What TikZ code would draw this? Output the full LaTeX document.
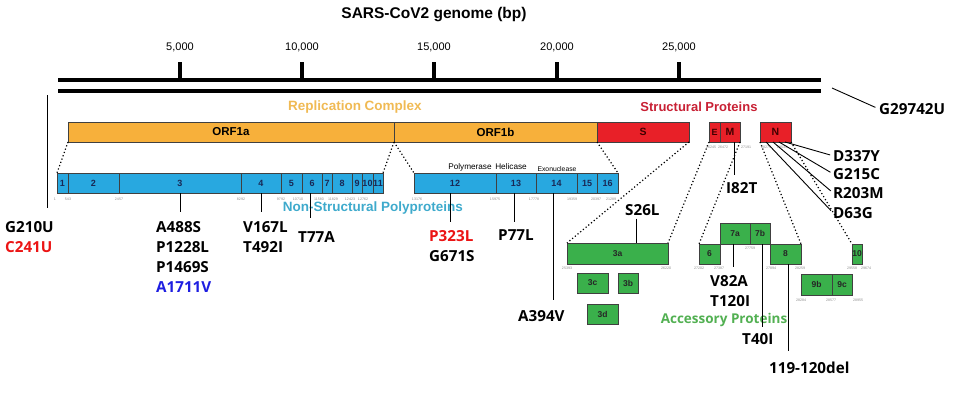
\documentclass[tikz,border=0pt]{standalone}
\usepackage{fontspec}
\setsansfont{Liberation Sans}
\newfontfamily\mutfont{Open Sans}
\usepackage{tikz}

\definecolor{orfcol}{RGB}{247,176,59}
\definecolor{spcol}{RGB}{232,32,40}
\definecolor{nspcol}{RGB}{40,168,224}
\definecolor{acccol}{RGB}{58,176,75}
\definecolor{navytxt}{RGB}{25,40,85}
\definecolor{repcol}{RGB}{240,186,84}
\definecolor{strcol}{RGB}{200,32,52}
\definecolor{nsptxt}{RGB}{62,170,204}
\definecolor{acctxt}{RGB}{82,176,82}
\definecolor{mutred}{RGB}{235,20,20}
\definecolor{mutblue}{RGB}{30,30,225}

\begin{document}
\begin{tikzpicture}[x=1pt, y=-1pt,
  box/.style={draw=black!75, line width=0.8pt, inner sep=0pt, outer sep=0pt, minimum height=20pt},
  orf/.style={box, fill=orfcol, font=\sffamily\bfseries\fontsize{11.5}{12}\selectfont},
  sp/.style={box, fill=spcol, text=black!75!red, font=\sffamily\bfseries\fontsize{10.5}{11}\selectfont},
  nsp/.style={box, fill=nspcol, text=navytxt, font=\sffamily\bfseries\fontsize{9}{10}\selectfont},
  acc/.style={box, fill=acccol, text=black!85, font=\sffamily\bfseries\fontsize{8.5}{9}\selectfont},
  mut/.style={anchor=north west, inner sep=0pt, align=left, font=\mutfont\bfseries\fontsize{15.2}{20}\selectfont},
  region/.style={inner sep=0pt, font=\sffamily\bfseries\fontsize{13.5}{14}\selectfont},
  enz/.style={inner sep=0pt, font=\sffamily\fontsize{8.2}{9}\selectfont},
  posnum/.style={inner sep=0pt, text=black!45, font=\sffamily\fontsize{3.6}{4}\selectfont},
  axis/.style={line width=4pt},
  zoomline/.style={dash pattern=on 1.2pt off 2.3pt, line width=1.2pt},
  mline/.style={line width=0.9pt, shorten >=8pt}]
\useasboundingbox (0,0) rectangle (959,394);

% genome scale
\node[inner sep=0pt, font=\sffamily\bfseries\fontsize{15.5}{16}\selectfont] (title) at (434,15) {SARS-CoV2 genome (bp)};
\foreach \x/\k in {180/5,302/10,434/15,557/20,679/25} {
  \node[inner sep=0pt, font=\sffamily\fontsize{11}{12}\selectfont] (tick\k) at (\x,47) {\k,000};
  \draw[axis] (\x,62) -- (\x,80);
}
\coordinate (ax0) at (58,80);
\coordinate (ax1) at (821,80);
\coordinate (bx0) at (58,91);
\coordinate (bx1) at (821,91);
\draw[axis] (ax0) -- (ax1);
\draw[axis] (bx0) -- (bx1);

% region titles
\node[region, text=repcol] (repl) at (355,107) {Replication Complex};
\node[region, text=strcol, font=\sffamily\bfseries\fontsize{13}{14}\selectfont] (struct) at (699,107) {Structural Proteins};
\node[region, text=nsptxt] (nonstr) at (373,208) {Non-Structural Polyproteins};
\node[region, text=acctxt, font=\mutfont\bfseries\fontsize{13.5}{14}\selectfont] (access) at (724,320) {Accessory Proteins};

% genome ORFs
\node[orf, minimum width=326pt] (orf1a) at (231,132) {ORF1a};
\node[orf, minimum width=203pt] (orf1b) at (495.5,132) {ORF1b};
\node[sp, minimum width=92pt] (spike) at (643,132) {S};
\node[sp, minimum width=11pt, font=\sffamily\bfseries\fontsize{9}{10}\selectfont] (envE) at (714.5,132) {E};
\node[sp, minimum width=20pt] (memM) at (730,132) {M};
\node[sp, minimum width=31pt] (nucN) at (775.5,132) {N};

% non-structural proteins
\node[nsp, minimum width=11pt] (nsp1) at (62.5,183) {1};
\node[nsp, minimum width=51pt] (nsp2) at (93.5,183) {2};
\node[nsp, minimum width=122pt] (nsp3) at (180,183) {3};
\node[nsp, minimum width=40pt] (nsp4) at (261,183) {4};
\node[nsp, minimum width=21pt] (nsp5) at (291.5,183) {5};
\node[nsp, minimum width=20pt] (nsp6) at (312,183) {6};
\node[nsp, minimum width=10pt] (nsp7) at (327,183) {7};
\node[nsp, minimum width=20pt] (nsp8) at (342,183) {8};
\node[nsp, minimum width=10pt] (nsp9) at (357,183) {9};
\node[nsp, minimum width=11pt] (nsp10) at (367.5,183) {10};
\node[nsp, minimum width=10pt] (nsp11) at (378,183) {11};
\node[nsp, minimum width=82pt] (nsp12) at (455,183) {12};
\node[nsp, minimum width=40pt] (nsp13) at (516,183) {13};
\node[nsp, minimum width=41pt] (nsp14) at (556.5,183) {14};
\node[nsp, minimum width=20pt] (nsp15) at (587,183) {15};
\node[nsp, minimum width=21pt] (nsp16) at (607.5,183) {16};

\node[enz] (pol) at (470,167) {Polymerase};
\node[enz] (hel) at (511,167) {Helicase};
\node[enz, font=\sffamily\fontsize{6.8}{7}\selectfont] (exo) at (557,169) {Exonuclease};

% accessory proteins
\node[acc, minimum width=101pt, minimum height=21pt] (orf3a) at (617.5,253.5) {3a};
\node[acc, minimum width=31pt] (orf3c) at (592.5,283) {3c};
\node[acc, minimum width=20pt] (orf3b) at (628,283) {3b};
\node[acc, minimum width=31pt] (orf3d) at (602.5,314) {3d};
\node[acc, minimum width=21pt] (orf6) at (709.5,254) {6};
\node[acc, minimum width=30pt, minimum height=21pt] (orf7a) at (735,233.5) {7a};
\node[acc, minimum width=20pt, minimum height=21pt] (orf7b) at (760,233.5) {7b};
\node[acc, minimum width=31pt] (orf8) at (785.5,254) {8};
\node[acc, minimum width=31pt, minimum height=21pt] (orf9b) at (816.5,284.5) {9b};
\node[acc, minimum width=20pt, minimum height=21pt] (orf9c) at (842,284.5) {9c};
\node[acc, minimum width=10pt] (orf10) at (857,254) {10};

% positions
\foreach \x/\n in {55/1,68/543,119/2457,241/8292,281/9792,298/10710,319/11580,333/11829,350/12423,363/12762,
                   417/13176,495/15975,534/17778,572/19359,596/20397,611/21289}
  \node[posnum] (pos\n) at (\x,199) {\n};
\foreach \x/\n in {711/26245,723/26472,746/27191,766/28274,782/29533}
  \node[posnum] (pos\n) at (\x,147) {\n};
\foreach \x/\n in {567/25393,666/26220,699/27202,719/27387,771/27894,800/28259,852/29558,866/29674}
  \node[posnum] (pos\n) at (\x,268) {\n};
\node[posnum] (pos27759) at (750,248) {27759};
\foreach \x/\n in {801/28284,831/28577,858/28955}
  \node[posnum] (pos\n) at (\x,300) {\n};

% zoom lines
\draw[zoomline] (orf1a.south west) -- (nsp1.north west);
\draw[zoomline] (orf1a.south east) -- (nsp11.north east);
\draw[zoomline] (orf1b.south west) -- (nsp12.north west);
\draw[zoomline] (orf1b.south east) -- (nsp16.north east);
\draw[zoomline] (spike.south east) -- (orf3a.north west);
\draw[zoomline] (envE.south west) -- (orf3a.north east);
\draw[zoomline] (memM.south east) -- (orf6.north west);
\draw[zoomline] (nucN.south west) -- (orf8.north east);
\draw[zoomline] (nucN.south east) -- (orf10.north west);

% mutations
\node[mut] (g210) at (5,221) {G210U\\\textcolor{mutred}{C241U}};
\node[mut] (nsp3mut) at (156,221) {A488S\\P1228L\\P1469S\\\textcolor{mutblue}{A1711V}};
\node[mut] (nsp4mut) at (243,221) {V167L\\T492I};
\node[mut] (t77a) at (298,231) {T77A};
\node[mut] (nsp12mut) at (429,230) {\textcolor{mutred}{P323L}\\G671S};
\node[mut] (p77l) at (498,229) {P77L};
\node[mut] (a394v) at (518,310) {A394V};
\node[mut] (s26l) at (625,204) {S26L};
\node[mut] (i82t) at (726,182) {I82T};
\node[mut] (d337y) at (833,150) {D337Y};
\node[mut] (g215c) at (833,168) {G215C};
\node[mut] (r203m) at (833,187) {R203M};
\node[mut] (d63g) at (833,207) {D63G};
\node[mut] (nsp7amut) at (710,275) {V82A\\T120I};
\node[mut] (t40i) at (742,333) {T40I};
\node[mut] (del119) at (769,362) {119-120del};
\node[mut, anchor=west] (g29742) at (879,109) {G29742U};

\coordinate (utr5) at (47,95);
\coordinate (utr5end) at (47,208);
\coordinate (utr3) at (832,88);
\draw[mline, shorten >=0pt] (utr5) -- (utr5end);
\draw[mline, shorten >=4pt] (utr3) -- (g29742.west);
\draw[mline, shorten >=9pt] (nsp3.south) -- (nsp3.south |- nsp3mut.north);
\draw[mline, shorten >=9pt] (nsp4.south) -- (nsp4.south |- nsp4mut.north);
\draw[mline, shorten >=13pt] ([xshift=-2pt]nsp6.south) -- ([xshift=-2pt]nsp6.south |- t77a.north);
\draw[mline] ([xshift=-5pt]nsp12.south) -- ([xshift=-5pt]nsp12.south |- nsp12mut.north);
\draw[mline, shorten >=7pt] ([xshift=-2pt]nsp13.south) -- ([xshift=-2pt]nsp13.south |- p77l.north);
\draw[mline, shorten >=10pt] ([xshift=-3.5pt]nsp14.south) -- ([xshift=-3.5pt]nsp14.south |- a394v.north);
\draw[mline, shorten >=0pt, shorten <=3pt] ([xshift=-6pt]s26l.south) -- ([xshift=-6pt]s26l.south |- orf3a.north);
\draw[mline, shorten >=7pt] ([xshift=4pt]memM.south) -- ([xshift=4pt]memM.south |- i82t.north);
\draw[mline, shorten >=3pt] ([xshift=25pt]nucN.south west) -- (d337y.west);
\draw[mline, shorten >=3pt] ([xshift=19pt]nucN.south west) -- (g215c.west);
\draw[mline, shorten >=3pt] ([xshift=13pt]nucN.south west) -- (r203m.west);
\draw[mline, shorten >=3pt] ([xshift=6pt]nucN.south west) -- (d63g.west);
\draw[mline, shorten >=8pt] ([xshift=-2pt]orf7a.south) -- ([xshift=-2pt]orf7a.south |- nsp7amut.north);
\draw[mline, shorten >=6pt] ([xshift=2pt]orf7b.south) -- ([xshift=2pt]orf7b.south |- t40i.north);
\draw[mline, shorten >=11pt] ([xshift=2.5pt]orf8.south) -- ([xshift=2.5pt]orf8.south |- del119.north);
\end{tikzpicture}
\end{document}
